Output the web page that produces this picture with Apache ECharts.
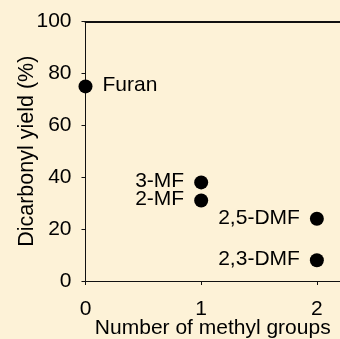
<!DOCTYPE html>
<html><head><meta charset="utf-8">
<script src="https://cdn.jsdelivr.net/npm/echarts@6/dist/echarts.min.js"></script>
<style>html,body{margin:0;padding:0;background:#fdf2d7}#c{width:340px;height:339px}</style>
</head><body><div id="c"></div>
<script>
var names = ['Furan', '3-MF', '2-MF', '2,5-DMF', '2,3-DMF'];
var methylGroups = [0, 1, 1, 2, 2];
var yields = [75, 38, 31, 24, 8];
var labelSide = ['right', 'left', 'left', 'left', 'left'];
var yTicks = [0, 20, 40, 60, 80, 100];
var xTicks = [0, 1, 2];

var F = 'Liberation Sans, Arial, sans-serif';
var chart = echarts.init(document.getElementById('c'));
var data = names.map(function (n, i) {
  return {
    value: [methylGroups[i], yields[i]], name: n,
    label: { show: true, position: labelSide[i], formatter: n, distance: 10, color: '#000', fontSize: 21, fontFamily: F, offset: [0, -1] }
  };
});
chart.setOption({
  backgroundColor: '#fdf2d7',
  animation: false,
  grid: { left: 85.5, top: 21.5, right: 0, bottom: 58, containLabel: false, outerBoundsMode: 'none' },
  xAxis: [{
    type: 'value', min: 0, max: 2.2, interval: 1,
    name: 'Number of methyl groups', nameLocation: 'middle', nameGap: 37, nameMoveOverlap: false,
    nameTextStyle: { color: '#000', fontSize: 21, fontFamily: F },
    axisLine: { lineStyle: { color: '#111', width: 1 } },
    axisTick: { show: true, length: 4, inside: false, lineStyle: { color: '#111' } },
    axisLabel: { color: '#000', fontSize: 21, fontFamily: F, margin: 18,
      formatter: function (v) { return xTicks.indexOf(v) >= 0 ? String(v) : ''; } },
    splitLine: { show: false }
  }, {
    type: 'value', min: 0, max: 2.2, position: 'top',
    axisLine: { show: true, lineStyle: { color: '#111', width: 2 } },
    axisTick: { show: false }, axisLabel: { show: false }, splitLine: { show: false }
  }],
  yAxis: {
    type: 'value', min: 0, max: 100, interval: 20,
    name: 'Dicarbonyl yield (%)', nameLocation: 'middle', nameGap: 47, nameMoveOverlap: false,
    nameTextStyle: { color: '#000', fontSize: 21.5, fontFamily: F },
    axisLine: { show: true, lineStyle: { color: '#111', width: 1 } },
    axisTick: { show: true, length: 4, lineStyle: { color: '#111' } },
    axisLabel: { color: '#000', fontSize: 21, fontFamily: F, margin: 14,
      formatter: function (v) { return yTicks.indexOf(v) >= 0 ? String(v) : ''; } },
    splitLine: { show: false }
  },
  series: [{
    type: 'scatter', symbolSize: 14, itemStyle: { color: '#000', opacity: 1 },
    data: data
  }]
});
</script></body></html>
